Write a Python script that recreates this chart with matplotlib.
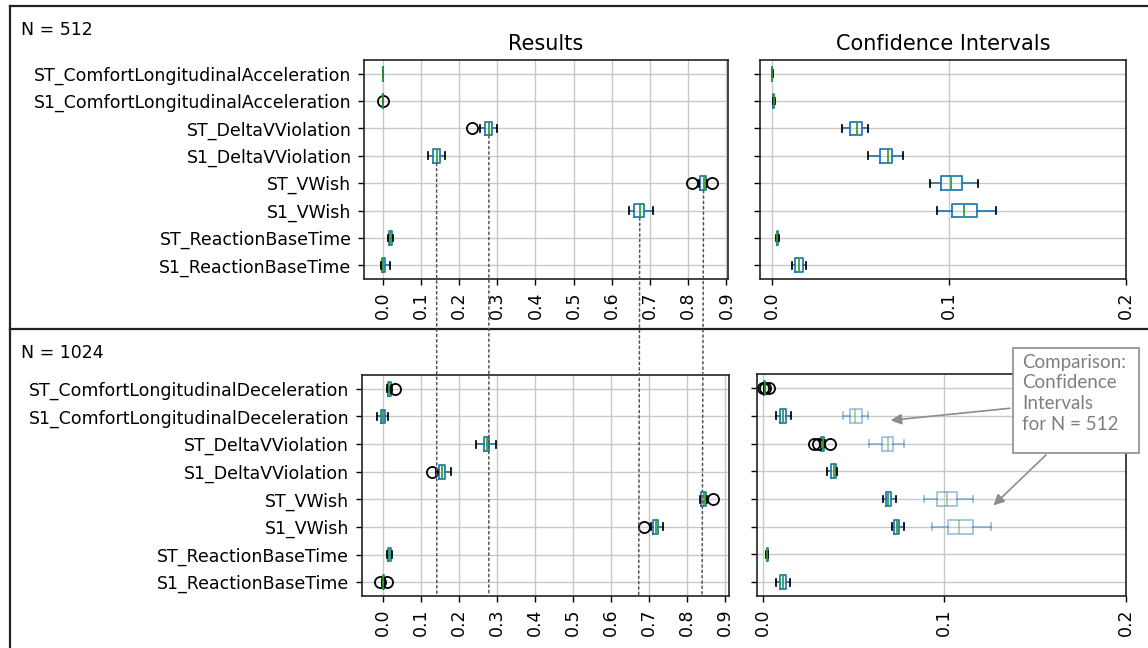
import matplotlib
matplotlib.use("Agg")
import matplotlib.pyplot as plt
from matplotlib.lines import Line2D
from matplotlib.patches import Rectangle, ConnectionPatch

plt.rcParams['font.family'] = ['DejaVu Sans']
plt.rcParams['font.size'] = 12.5
plt.rcParams['xtick.major.size'] = 4.4
plt.rcParams['ytick.major.size'] = 4.4
plt.rcParams['xtick.major.pad'] = 4.6
plt.rcParams['ytick.major.pad'] = 4.6
plt.rcParams['xtick.major.width'] = 1.0
plt.rcParams['ytick.major.width'] = 1.0

# ---------------- data (rows listed top -> bottom) ----------------
labels_512 = ['ST_ComfortLongitudinalAcceleration', 'S1_ComfortLongitudinalAcceleration',
              'ST_DeltaVViolation', 'S1_DeltaVViolation', 'ST_VWish', 'S1_VWish',
              'ST_ReactionBaseTime', 'S1_ReactionBaseTime']
labels_1024 = ['ST_ComfortLongitudinalDeceleration', 'S1_ComfortLongitudinalDeceleration',
               'ST_DeltaVViolation', 'S1_DeltaVViolation', 'ST_VWish', 'S1_VWish',
               'ST_ReactionBaseTime', 'S1_ReactionBaseTime']

# Results, N = 512
res512_med = [0.001, 0.001, 0.278, 0.141, 0.840, 0.673, 0.020, 0.001]
res512_q1 = [0.0005, 0.0005, 0.267, 0.132, 0.831, 0.659, 0.016, -0.003]
res512_q3 = [0.0015, 0.0015, 0.285, 0.150, 0.846, 0.684, 0.025, 0.005]
res512_lo = [0.0, 0.0, 0.256, 0.119, 0.827, 0.644, 0.014, -0.005]
res512_hi = [0.002, 0.002, 0.298, 0.164, 0.849, 0.708, 0.027, 0.019]
res512_fl = [[], [0.0], [0.235], [], [0.811, 0.861], [], [], []]

# Confidence intervals, N = 512
ci512_med = [0.0003, 0.0012, 0.0483, 0.0658, 0.1013, 0.1086, 0.0032, 0.0156]
ci512_q1 = [0.0002, 0.0009, 0.0442, 0.0611, 0.0955, 0.1019, 0.0028, 0.0131]
ci512_q3 = [0.0004, 0.0015, 0.0509, 0.0681, 0.1073, 0.1160, 0.0036, 0.0178]
ci512_lo = [0.0001, 0.0006, 0.0398, 0.0543, 0.0893, 0.0936, 0.0024, 0.0113]
ci512_hi = [0.0005, 0.0018, 0.0543, 0.0742, 0.1165, 0.1265, 0.0040, 0.0193]
ci512_fl = [[], [], [], [], [], [], [], []]

# Results, N = 1024
res1024_med = [0.016, 0.0, 0.272, 0.155, 0.844, 0.718, 0.016, 0.0]
res1024_q1 = [0.0115, -0.005, 0.264, 0.148, 0.838, 0.712, 0.012, -0.002]
res1024_q3 = [0.020, 0.005, 0.279, 0.162, 0.851, 0.725, 0.021, 0.002]
res1024_lo = [0.009, -0.016, 0.244, 0.140, 0.835, 0.705, 0.010, -0.004]
res1024_hi = [0.023, 0.0115, 0.297, 0.1775, 0.854, 0.736, 0.024, 0.004]
res1024_fl = [[0.031], [], [], [0.127], [0.869], [0.688], [], [-0.009, 0.009]]

# Confidence intervals, N = 1024
ci1024_med = [0.001, 0.011, 0.033, 0.039, 0.069, 0.0738, 0.0025, 0.011]
ci1024_q1 = [0.0007, 0.0095, 0.032, 0.0375, 0.0678, 0.0722, 0.0022, 0.0095]
ci1024_q3 = [0.0013, 0.0127, 0.0338, 0.0402, 0.0705, 0.0751, 0.0028, 0.0127]
ci1024_lo = [0.0005, 0.0073, 0.0315, 0.0353, 0.0661, 0.0710, 0.0019, 0.0073]
ci1024_hi = [0.0015, 0.0154, 0.0345, 0.0411, 0.0734, 0.0778, 0.0031, 0.0150]
ci1024_fl = [[0.0, 0.0015, 0.0035], [], [0.0283, 0.0306, 0.0368], [], [], [], [], []]

# Faded comparison boxes (N = 512 CIs) pasted into the N = 1024 CI panel
cmp_rows = [1, 2, 4, 5]
cmp_med = [0.051, 0.069, 0.1015, 0.1083]
cmp_q1 = [0.048, 0.0656, 0.0959, 0.1019]
cmp_q3 = [0.0545, 0.0720, 0.1072, 0.1157]
cmp_lo = [0.044, 0.0586, 0.0890, 0.0935]
cmp_hi = [0.0579, 0.0780, 0.1160, 0.1256]

# medians of N = 512 results that are carried down as dotted guides (row index)
guide_rows = [3, 2, 5, 4]

annotation_text = "Comparison:\nConfidence\nIntervals\nfor N = 512"

# ---------------- helpers ----------------
W, H = 1148, 648
fig = plt.figure(figsize=(W / 100, H / 100), dpi=100)


def px_axes(l, t, r, b):
    return fig.add_axes([l / W, 1 - b / H, (r - l) / W, (b - t) / H])


def stats(med, q1, q3, lo, hi, fl):
    return [dict(med=m, q1=a, q3=b, whislo=c, whishi=d, fliers=f)
            for m, a, b, c, d, f in zip(med, q1, q3, lo, hi, fl)]


BLUE, GREEN = '#1f77b4', '#2ca02c'


def draw_box(ax, st, positions, alpha=1.0):
    ax.bxp(st, positions=positions, vert=False, widths=0.5, manage_ticks=False,
           boxprops=dict(color=BLUE, lw=1.25, alpha=alpha),
           whiskerprops=dict(color=BLUE, lw=1.25, alpha=alpha),
           capprops=dict(color='k' if alpha == 1 else BLUE, lw=1.25, alpha=alpha),
           medianprops=dict(color=GREEN, lw=1.25, alpha=alpha),
           flierprops=dict(marker='o', markerfacecolor='none', markeredgecolor='k',
                           markersize=8, markeredgewidth=1.3))


def style(ax, labels, xlim, xticks, n):
    pos = list(range(n, 0, -1))
    ax.set_ylim(0.5, n + 0.5)
    ax.set_xlim(*xlim)
    ax.set_xticks(xticks)
    ax.set_xticklabels([f"{v:.1f}" for v in xticks], rotation=90)
    ax.set_yticks(pos)
    ax.set_yticklabels(labels if labels else [])
    ax.grid(True, color='#c8c8c8', lw=1.0)
    ax.set_axisbelow(True)
    for s in ax.spines.values():
        s.set_color('#222222')
        s.set_linewidth(1.2)
    return pos


n = len(labels_512)
pos = list(range(n, 0, -1))
left_ticks = [0.0, 0.1, 0.2, 0.3, 0.4, 0.5, 0.6, 0.7, 0.8, 0.9]
right_ticks = [0.0, 0.1, 0.2]

ax1 = px_axes(364, 60, 728, 279)
ax2 = px_axes(760, 60, 1125.7, 279)
ax3 = px_axes(361.7, 375, 729, 596)
ax4 = px_axes(757.3, 374.3, 1125.7, 596)

style(ax1, labels_512, (-0.049, 0.904), left_ticks, n)
style(ax2, None, (-0.0066, 0.2), right_ticks, n)
style(ax3, labels_1024, (-0.057, 0.911), left_ticks, n)
style(ax4, None, (-0.003, 0.2), right_ticks, n)

draw_box(ax1, stats(res512_med, res512_q1, res512_q3, res512_lo, res512_hi, res512_fl), pos)
draw_box(ax2, stats(ci512_med, ci512_q1, ci512_q3, ci512_lo, ci512_hi, ci512_fl), pos)
draw_box(ax3, stats(res1024_med, res1024_q1, res1024_q3, res1024_lo, res1024_hi, res1024_fl), pos)
draw_box(ax4, stats(cmp_med, cmp_q1, cmp_q3, cmp_lo, cmp_hi, [[]] * len(cmp_med)),
         [pos[r] for r in cmp_rows], alpha=0.45)
draw_box(ax4, stats(ci1024_med, ci1024_q1, ci1024_q3, ci1024_lo, ci1024_hi, ci1024_fl), pos)

ax1.set_title("Results", fontsize=15, pad=7.5)
ax2.set_title("Confidence Intervals", fontsize=15, pad=7.5)

# dotted guides from N=512 medians down to the N=1024 axis
for r in guide_rows:
    xv = res512_med[r]
    con = ConnectionPatch(xyA=(xv, pos[r] - 0.27), coordsA=ax1.transData,
                          xyB=(xv, 0.5), coordsB=ax3.transData,
                          color='#555555', lw=1.1, ls=(0, (1.5, 2.0)), zorder=5)
    fig.add_artist(con)

# panel frame and separator
frame_kw = dict(color='#222222', lw=1.6, transform=fig.transFigure)
fig.add_artist(Line2D([10 / W, 1.0], [1 - 6 / H, 1 - 6 / H], **frame_kw))
fig.add_artist(Line2D([10 / W, 10 / W], [1 - 6 / H, 0.0], **frame_kw))
fig.add_artist(Line2D([10 / W, 1.0], [1 - 329 / H, 1 - 329 / H], **frame_kw))

fig.text(21 / W, 1 - 30 / H, "N = 512", fontsize=12.5, va='center', ha='left')
fig.text(21 / W, 1 - 353 / H, "N = 1024", fontsize=12.5, va='center', ha='left')

# annotation box
GREY = '#7f7f7f'
fig.add_artist(Rectangle((1012.7 / W, 1 - 453 / H), 126 / W, 105 / H,
                         transform=fig.transFigure, facecolor='white',
                         edgecolor='#8c8c8c', lw=1.2, zorder=6))
fig.text(1022 / W, 1 - 354 / H, annotation_text, fontsize=13.5, family='Lato',
         color=GREY, va='top', ha='left', linespacing=1.25, zorder=7)

arrow_kw = dict(arrowstyle='-|>', color='#8c8c8c', lw=1.2, mutation_scale=16)
ax4.annotate('', xy=(0.069, 6.83), xycoords='data',
             xytext=(1012.7 / W, 1 - 408 / H), textcoords='figure fraction',
             arrowprops=arrow_kw, annotation_clip=False)
ax4.annotate('', xy=(0.126, 3.70), xycoords='data',
             xytext=(1048 / W, 1 - 453 / H), textcoords='figure fraction',
             arrowprops=arrow_kw, annotation_clip=False)

fig.savefig("out.png", dpi=100)
